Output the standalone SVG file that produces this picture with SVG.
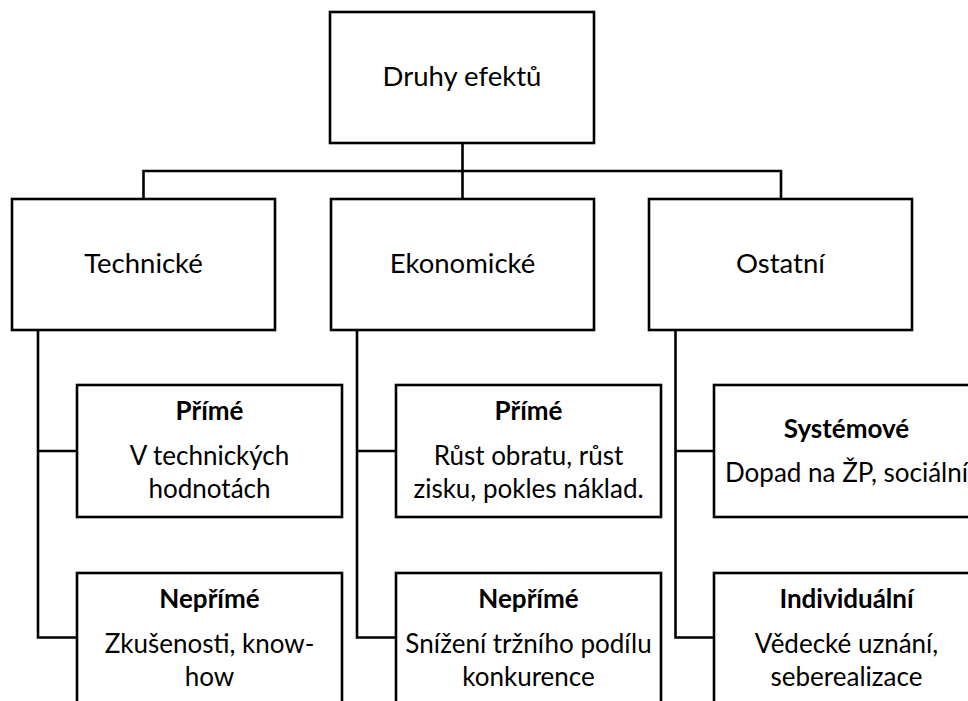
<svg xmlns="http://www.w3.org/2000/svg" width="968" height="701" viewBox="0 0 968 701">
  <style>
    .box { fill: #ffffff; stroke: #000000; stroke-width: 2.6; }
    .wire { fill: none; stroke: #000000; stroke-width: 2.6; stroke-linecap: square; }
    text { font-family: Lato, "Open Sans", "Liberation Sans", sans-serif; fill: #000000; text-anchor: middle; }
    .lvl1 { font-size: 27.5px; }
    .head { font-size: 26px; font-weight: bold; }
    .body { font-size: 26px; }
  </style>
  <rect width="968" height="701" fill="#ffffff"/>

  <!-- tree connectors -->
  <g id="connectors">
    <path class="wire" d="M462.5,143 V171 M143.5,171 H781 M143.5,171 V199 M462.5,171 V199 M781,171 V199"/>
    <path class="wire" d="M38,330 V637.5 M38,451 H77 M38,637.5 H77"/>
    <path class="wire" d="M357,330 V637.5 M357,451 H396 M357,637.5 H396"/>
    <path class="wire" d="M675.5,330 V637.5 M675.5,451 H714 M675.5,637.5 H714"/>
  </g>

  <g id="root">
    <rect class="box" x="330" y="12" width="264" height="131"/>
    <text class="lvl1" x="462" y="86">Druhy efektů</text>
  </g>

  <g id="technicke">
    <rect class="box" x="12" y="199" width="263" height="131"/>
    <text class="lvl1" x="143.5" y="272.5">Technické</text>
  </g>
  <g id="ekonomicke">
    <rect class="box" x="331" y="199" width="263" height="131"/>
    <text class="lvl1" x="462.5" y="272.5">Ekonomické</text>
  </g>
  <g id="ostatni">
    <rect class="box" x="649" y="199" width="263" height="131"/>
    <text class="lvl1" x="780.5" y="272.5">Ostatní</text>
  </g>

  <g id="tech-prime">
    <rect class="box" x="77" y="385" width="265" height="132"/>
    <text class="head" x="209.5" y="420">Přímé</text>
    <text class="body" x="209.5" y="465">V technických</text>
    <text class="body" x="209.5" y="497.7">hodnotách</text>
  </g>
  <g id="tech-neprime">
    <rect class="box" x="77" y="573" width="265" height="132"/>
    <text class="head" x="209.5" y="608">Nepřímé</text>
    <text class="body" x="209.5" y="653">Zkušenosti, know-</text>
    <text class="body" x="209.5" y="685.7">how</text>
  </g>

  <g id="eko-prime">
    <rect class="box" x="396" y="385" width="265" height="132"/>
    <text class="head" x="528.5" y="420">Přímé</text>
    <text class="body" x="528.5" y="465">Růst obratu, růst</text>
    <text class="body" x="528.5" y="497.7">zisku, pokles náklad.</text>
  </g>
  <g id="eko-neprime">
    <rect class="box" x="396" y="573" width="265" height="132"/>
    <text class="head" x="528.5" y="608">Nepřímé</text>
    <text class="body" x="528.5" y="653">Snížení tržního podílu</text>
    <text class="body" x="528.5" y="685.7">konkurence</text>
  </g>

  <g id="ost-systemove">
    <rect class="box" x="714" y="385" width="265" height="132"/>
    <text class="head" x="846.5" y="437.7">Systémové</text>
    <text class="body" x="846.5" y="481.7">Dopad na ŽP, sociální</text>
  </g>
  <g id="ost-individualni">
    <rect class="box" x="714" y="573" width="265" height="132"/>
    <text class="head" x="846.5" y="608">Individuální</text>
    <text class="body" x="846.5" y="653">Vědecké uznání,</text>
    <text class="body" x="846.5" y="685.7">seberealizace</text>
  </g>
</svg>
